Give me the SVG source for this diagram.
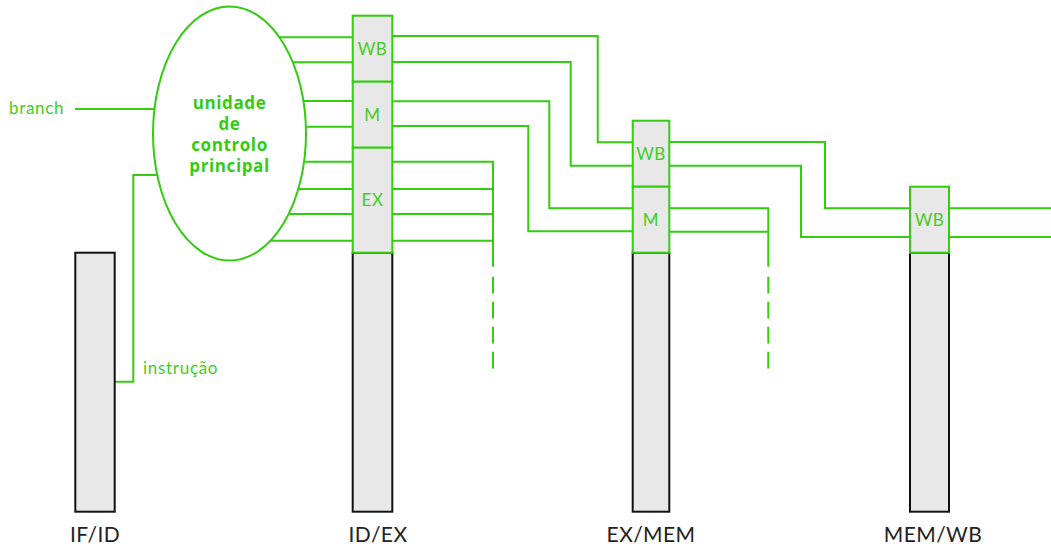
<svg xmlns="http://www.w3.org/2000/svg" width="1051" height="549" viewBox="0 0 1051 549">
<style>
.w{fill:none;stroke:#33cc11;stroke-width:2}
.d{fill:none;stroke:#33cc11;stroke-width:2;stroke-dasharray:16.7 8.3}
.bar{fill:#e8e8e8;stroke:#111;stroke-width:2}
.seg{fill:#e8e8e8;stroke:#33cc11;stroke-width:2}
.gt{font-family:Lato,"Open Sans",sans-serif;font-size:17px;letter-spacing:0.7px;fill:#44cc22}
.st{font-family:Lato,"Open Sans",sans-serif;font-size:17px;letter-spacing:0.5px;fill:#44cc22;text-anchor:middle}
.lb{font-family:Lato,"Open Sans",sans-serif;font-size:21px;letter-spacing:0.4px;fill:#222;text-anchor:middle}
.cu{font-family:"Open Sans",sans-serif;font-weight:bold;font-size:17px;letter-spacing:0.6px;fill:#33cc11;text-anchor:middle}
</style>
<g id="connectors">
<path class="w" d="M75 109H200"/>
<path class="w" d="M115 381.7H133.3V175H200"/>
<path class="w" d="M230 37.3H353M230 62.3H353M230 101H353M230 126.7H353M230 161.7H353M230 189H353M230 214H353M230 240.7H353"/>
<path class="w" d="M392 36H597.7V142.3H633"/>
<path class="w" d="M392 62H570.7V165.7H633"/>
<path class="w" d="M392 101.3H549.3V208.3H633"/>
<path class="w" d="M392 126H528.3V231.3H633"/>
<path class="w" d="M392 161.7H493V266.7M392 189H493M392 214H493M392 240.7H493"/>
<path class="d" d="M493 276.7V369"/>
<path class="w" d="M669 142H825V208.3H910"/>
<path class="w" d="M669 165.7H801V237H910"/>
<path class="w" d="M669 208.3H768.3V266.7M669 231.7H768.3"/>
<path class="d" d="M768.3 276.7V369"/>
<path class="w" d="M949 208.3H1051M949 237H1051"/>
</g>
<g id="control">
<ellipse cx="229.5" cy="133.5" rx="76.5" ry="127" fill="#fff" stroke="#33cc11" stroke-width="2"/>
<text class="cu" x="229.5" y="109">unidade</text>
<text class="cu" x="229.5" y="130">de</text>
<text class="cu" x="229.5" y="151">controlo</text>
<text class="cu" x="229.5" y="172">principal</text>
</g>
<g id="branch-label"><text class="gt" x="9" y="114">branch</text></g>
<g id="instr-label"><text class="gt" x="143" y="374">instrução</text></g>
<g id="ifid">
<rect class="bar" x="75.3" y="252.7" width="39.4" height="259"/>
<text class="lb" x="95" y="542">IF/ID</text>
</g>
<g id="idex">
<rect class="bar" x="352.7" y="252.7" width="39.6" height="259"/>
<rect class="seg" x="352.7" y="15.7" width="39.6" height="66"/>
<rect class="seg" x="352.7" y="81.7" width="39.6" height="66"/>
<rect class="seg" x="352.7" y="147.7" width="39.6" height="105"/>
<text class="st" x="372.5" y="55">WB</text>
<text class="st" x="372.5" y="121">M</text>
<text class="st" x="372.5" y="206">EX</text>
<text class="lb" x="378" y="542">ID/EX</text>
</g>
<g id="exmem">
<rect class="bar" x="632.7" y="252.7" width="36.6" height="259"/>
<rect class="seg" x="632.7" y="120.7" width="36.6" height="66"/>
<rect class="seg" x="632.7" y="186.7" width="36.6" height="66"/>
<text class="st" x="651" y="160">WB</text>
<text class="st" x="651" y="226">M</text>
<text class="lb" x="651" y="542">EX/MEM</text>
</g>
<g id="memwb">
<rect class="bar" x="910" y="252.7" width="39" height="259"/>
<rect class="seg" x="910" y="186.7" width="39" height="66"/>
<text class="st" x="929.5" y="226">WB</text>
<text class="lb" x="933" y="542">MEM/WB</text>
</g>
</svg>
